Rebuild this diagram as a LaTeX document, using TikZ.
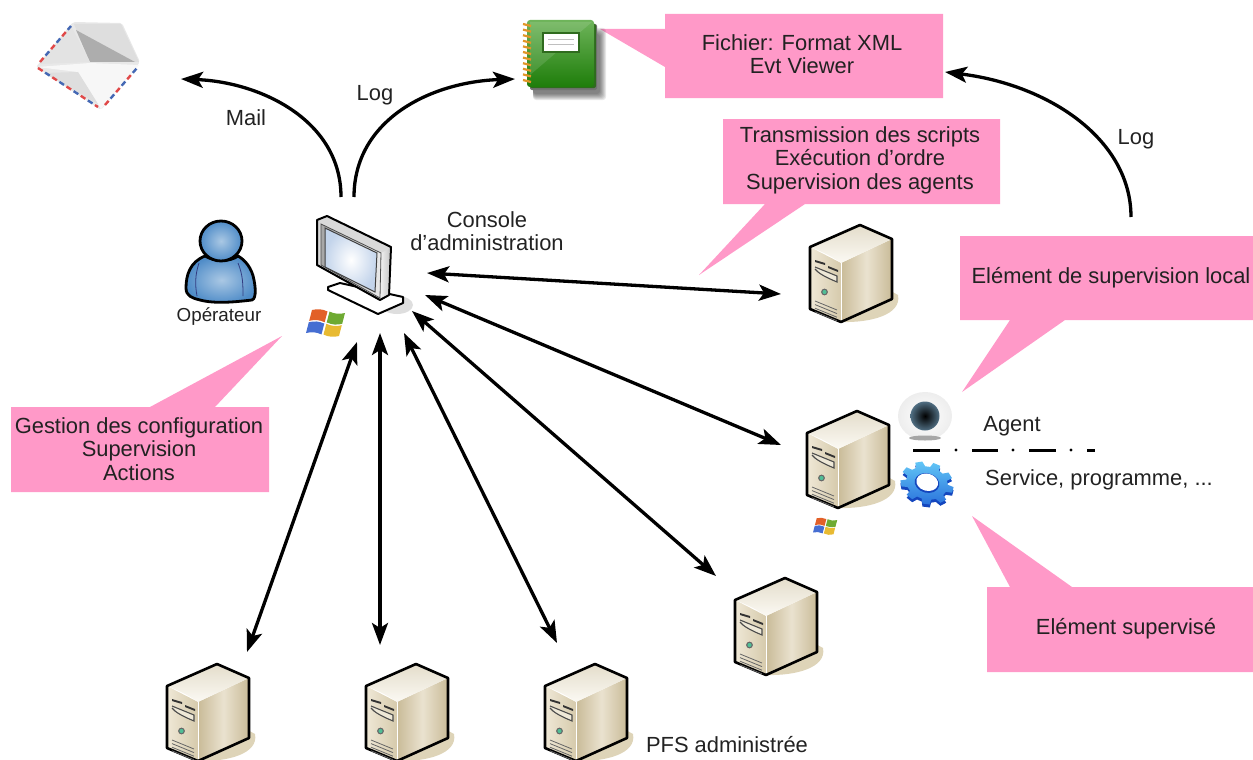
\documentclass[tikz,border=0pt]{standalone}
\usepackage{fontspec}
\setmainfont{Liberation Sans}
\usetikzlibrary{arrows.meta}
\definecolor{pinkbox}{HTML}{FF99C8}
\definecolor{txt}{HTML}{222222}
\definecolor{srvshadow}{HTML}{DED4B8}
\definecolor{srvfl}{HTML}{EFE8D6}
\definecolor{srvfr}{HTML}{D6CAAC}
\definecolor{srvrl}{HTML}{C9BB98}
\definecolor{srvrm}{HTML}{EAE2CF}
\definecolor{srvtt}{HTML}{E4DDCB}
\definecolor{srvtb}{HTML}{FBF9F3}
\definecolor{srvface}{HTML}{EEE8D7}
\definecolor{srvled}{HTML}{50BE96}
\definecolor{winR}{HTML}{E26028}
\definecolor{winG}{HTML}{6EAA32}
\definecolor{winB}{HTML}{466ED2}
\definecolor{winY}{HTML}{E8BA32}
\definecolor{ntop}{HTML}{6EB45A}
\definecolor{nbot}{HTML}{1E7D0A}
\definecolor{ndark}{HTML}{2F6B1E}
\definecolor{ringc}{HTML}{E19628}
\definecolor{irisout}{HTML}{506E82}
\definecolor{gearD}{HTML}{1446BE}
\definecolor{gearT}{HTML}{62C6F6}
\definecolor{gearB}{HTML}{2A72DC}
\definecolor{pin}{HTML}{AAC8E4}
\definecolor{pout}{HTML}{4F8CC8}
\definecolor{pline}{HTML}{323C82}
\definecolor{monc}{HTML}{C3D4EB}
\definecolor{airR}{HTML}{E04848}
\definecolor{airB}{HTML}{4468B4}
\tikzset{
  x=1pt,y=-1pt,
  lab/.style={font=\fontsize{21.9}{23.5}\selectfont,text=txt,align=center,inner sep=0pt},
  callout/.style={fill=pinkbox,draw=none},
  biarrow/.style={line width=3.3pt,{Stealth[length=22pt,width=16pt,inset=5pt]}-{Stealth[length=22pt,width=16pt,inset=5pt]}},
  onearrow/.style={line width=3.3pt,-{Stealth[length=22pt,width=16pt,inset=5pt]}},
  server/.pic={
    \fill[srvshadow] (30,97) .. controls (60,98) and (92,90) .. (88,70) -- (70,60) -- cycle;
    \shade[left color=srvfl,right color=srvfr] (0,22) -- (31,38) -- (31,97) -- (0,84) -- cycle;
    \shade[left color=srvrl,right color=srvrl,middle color=srvrm] (31,38) -- (82,14) -- (82,74) -- (31,97) -- cycle;
    \shade[top color=srvtt,bottom color=srvtb] (0,22) -- (50,0) -- (82,14) -- (31,38) .. controls (20,30) and (10,26) .. (0,22) -- cycle;
    \draw[white,line width=.8pt] (31,38) -- (31,97);
    \draw[black,line width=2.6pt,line join=round] (0,22) -- (50,0) -- (82,14) -- (82,74) -- (31,97) -- (0,84) -- cycle;
    \fill[black!80] (5,35) -- (15,38) -- (15,40) -- (5,37) -- cycle (18,41) -- (28,45) -- (28,47) -- (18,43) -- cycle;
    \draw[black!70,line width=1.1pt,fill=srvface] (5,42) -- (27,51) -- (27,57) .. controls (15,52) and (8,48) .. (5,44);
    \fill[black!60] (14.5,67) circle (3.4);
    \fill[srvled] (14.5,67) circle (2.1);
    \foreach \d in {0,3.6,7.2,10.8}{\draw[black!60,line width=.8pt] (5,76+\d) -- (27,85+\d);}
  },
  winlogo/.pic={
    \fill[winR] (6,2) to[bend left=18] (21.5,3.4) -- (18.7,14.2) to[bend right=18] (3.2,12.8) -- cycle;
    \fill[winG] (23.5,3.6) to[bend right=18] (39,5) -- (36.2,15.8) to[bend left=18] (20.7,14.4) -- cycle;
    \fill[winB] (2.8,14.2) to[bend left=18] (18.3,15.6) -- (15.5,26.4) to[bend right=18] (0,25) -- cycle;
    \fill[winY] (20.3,15.8) to[bend right=18] (35.8,17.2) -- (33,28) to[bend left=18] (17.5,26.6) -- cycle;
  }
}
\begin{document}
\begin{tikzpicture}
\useasboundingbox (0,0) rectangle (1253,760);
\clip (0,0) rectangle (1253,760);
% callouts
\fill[callout] (665,14) -- (943,14) -- (943,98) -- (665,98) -- (665,67) -- (600,29) -- (665,29) -- cycle;
\fill[callout] (723,119) -- (1000,119) -- (1000,204) -- (805,204) -- (699,275) -- (765,204) -- (723,204) -- cycle;
\fill[callout] (960,236) -- (1253,236) -- (1253,320) -- (1065,320) -- (962,392) -- (1010,320) -- (960,320) -- cycle;
\fill[callout] (11,407) -- (150,407) -- (282,336) -- (215,407) -- (269,407) -- (269,492) -- (11,492) -- cycle;
\fill[callout] (987,587) -- (1010,587) -- (972,516) -- (1072,587) -- (1253,587) -- (1253,672) -- (987,672) -- cycle;
% servers
\pic at (167,664) {server};
\pic at (366,664) {server};
\pic at (545,664) {server};
\pic at (735,578) {server};
\pic at (807,411) {server};
\pic at (810,225) {server};
\pic at (306,308) {winlogo};
\pic[scale=.62] at (813,517) {winlogo};
% envelope
\fill[black!9,rounded corners=2pt] (73,22) -- (122,23) -- (140,62) -- (101,110) -- (36,67) -- cycle;
\fill[black!13] (74,24) -- (121,24) -- (139,62) -- (90,62) -- cycle;
\fill[black!32] (76,30) -- (90,62) -- (135,62) -- cycle;
\fill[black!11] (71,26) -- (90,62) -- (40,64) -- cycle;
\fill[black!3] (37,67) -- (90,63) -- (139,65) -- (101,109) -- (78,72) -- cycle;
\fill[black!13] (44,73) -- (78,72) -- (98,104) -- cycle;
\draw[line width=2.4pt,airR,dash pattern=on 5.5pt off 11.5pt] (40,62) -- (71,26) (38,68) -- (98,107) (105,105) -- (137,68);
\draw[line width=2.4pt,airB,dash pattern=on 5.5pt off 11.5pt,dash phase=8.5pt] (40,62) -- (71,26) (38,68) -- (98,107) (105,105) -- (137,68);
% notebook
\foreach \s in {0,1,...,6}{\fill[black,opacity=.09,rounded corners=3pt] (533,{28+\s}) rectangle ({606-\s},{100-\s});}
\fill[black!55,rounded corners=2pt] (530,24) rectangle (597,90);
\fill[ndark,rounded corners=2pt] (530,24) rectangle (596,88);
\shade[top color=ntop,bottom color=nbot,rounded corners=3pt] (527,20) rectangle (594,87);
\fill[white,opacity=.12] (530,22) -- (592,22) -- (530,75) -- cycle;
\fill[white,draw=ndark,line width=1.4pt] (543,33) rectangle (579,52);
\draw[black!25,line width=.8pt] (548,39) -- (574,39) (548,44) -- (574,44);
\foreach \k in {0,...,10}{\draw[ringc,line width=2.2pt] (523,{24+\k*5.6}) -- (531,{26+\k*5.6});}
% eye
\shade[inner color=white,outer color=black!7] (925,416) ellipse (27 and 24);
\fill[black!35] (925,438) ellipse (16 and 2.5);
\shade[inner color=black,outer color=irisout] (925,416) circle (14.5);
% gear
\begin{scope}[shift={(927,486)},rotate=-15,yscale=.78]
\fill[gearD] (-13:20) \foreach \i [evaluate=\i as \a using \i*40] in {0,...,8}{ -- (\a-13:21) -- (\a-8:27) -- (\a+8:27) -- (\a+13:21) -- (\a+27:21)} -- cycle;
\end{scope}
\begin{scope}[shift={(927,483)},rotate=-15,yscale=.78]
\shade[top color=gearT,bottom color=gearB] (-13:21) \foreach \i [evaluate=\i as \a using \i*40] in {0,...,8}{ -- (\a-13:21) -- (\a-8:27) -- (\a+8:27) -- (\a+13:21) -- (\a+27:21)} -- cycle;
\fill[gearD] (0,0) circle (12.5);
\fill[white] (0,-1) circle (11);
\end{scope}
% person
\begin{scope}[line width=2.8pt]
\shade[inner color=pin,outer color=pout,draw=black] (205,256) .. controls (190,262) and (186,275) .. (186,288) .. controls (186,296) and (192,298) .. (200,300) .. controls (215,304) and (235,302) .. (252,300) .. controls (257,298) and (255,285) .. (254,280) .. controls (252,268) and (245,260) .. (238,256) .. controls (230,262) and (215,262) .. (205,256) -- cycle;
\shade[inner color=pin,outer color=pout,draw=black] (221,241) ellipse (21 and 20);
\draw[pline,line width=.8pt] (199,263) .. controls (195,275) and (195,285) .. (197,296) (238,263) .. controls (243,275) and (243,285) .. (243,296);
\end{scope}
% monitor
\fill[black!13] (397,305) ellipse (16 and 9);
\fill[white,draw=black,line width=2pt,line join=round] (328,287) -- (340,283) -- (403,297) -- (403,303) -- (378,314) -- (328,290) -- cycle;
\fill[black!15,draw=black,line width=2pt,line join=round] (317,220) -- (327,216) -- (391,247) -- (389,295) -- (380,300) -- (317,265) -- cycle;
\shade[left color=black!5,right color=black!20] (381,253) -- (389,249) -- (388,294) -- (380,298) -- cycle;
\shade[left color=black!35,right color=black!8,draw=black!70,line width=.8pt] (321,224) -- (381,253) -- (380,298) -- (321,265) -- cycle;
\shade[inner color=white,outer color=monc,draw=black!75,line width=1pt] (325,228) -- (377,253) -- (375,292) -- (325,267) -- cycle;
% dash line
\draw[line width=3pt] (913,450) -- (940,450) (972,450) -- (998,450) (1029,450) -- (1056,450) (1087,450) -- (1095,450);
\fill (956,450) circle (1.7) (1013,450) circle (1.7) (1071,450) circle (1.7);
% connectors
\coordinate (conA) at (341,197); \coordinate (conB) at (354,197);
\coordinate (mail) at (181,79); \coordinate (logL) at (515,79);
\coordinate (agent) at (1131,217); \coordinate (file) at (945,72);
\coordinate (m1) at (427,273); \coordinate (s1) at (781,294);
\coordinate (m2) at (425,295); \coordinate (s2) at (781,445);
\coordinate (m3) at (412,311); \coordinate (s3) at (716,576);
\coordinate (m4) at (404,333); \coordinate (s4) at (557,643);
\coordinate (m5) at (380,333); \coordinate (s5) at (380,645);
\coordinate (m6) at (357,342); \coordinate (s6) at (247,652);
\draw[onearrow] (conA) .. controls (341,120) and (260,82) .. (mail);
\draw[onearrow] (conB) .. controls (354,120) and (430,82) .. (logL);
\draw[onearrow] (agent) .. controls (1131,140) and (1050,85) .. (file);
\foreach \i in {1,...,6}{\draw[biarrow] (m\i) -- (s\i);}
% labels
\node[lab] (t1) at (802,54) {Fichier: Format XML\\Evt Viewer};
\node[lab] (t2) at (860,160) {Transmission des scripts\\Exécution d’ordre\\Supervision des agents};
\node[lab] (t3) at (1111,278) {Elément de supervision local};
\node[lab] (t4) at (139,449) {Gestion des configuration\\Supervision\\Actions};
\node[lab] (t5) at (1126,629) {Elément supervisé};
\node[lab] (t6) at (246,118) {Mail};
\node[lab] (t7) at (375,95) {Log};
\node[lab] (t8) at (1136,139) {Log};
\node[lab] (t9) at (487,231) {Console\\d’administration};
\node[lab] (t11) at (1012,426) {Agent};
\node[lab] (t12) at (1099,480) {Service, programme, ...};
\node[lab] (t13) at (727,745) {PFS administrée};
\node[lab,font=\fontsize{18.8}{20}\selectfont] (t14) at (219,317) {Opérateur};
\end{tikzpicture}
\end{document}
